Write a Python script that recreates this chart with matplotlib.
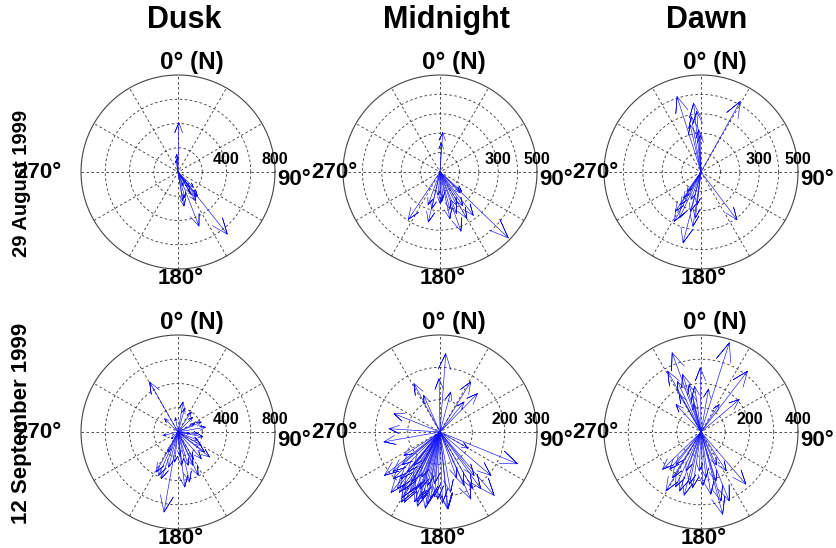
import numpy as np
import matplotlib
matplotlib.use("Agg")
import matplotlib.pyplot as plt

plt.rcParams['font.family'] = ['Liberation Sans', 'DejaVu Sans']

# ---- data: arrow direction (deg from N, clockwise) and magnitude ----
aug_dusk_dir = [1, 356, 350, 358, 141.6, 158.8, 144, 170, 171, 148.6, 144, 144, 141, 150, 160, 135, 165]
aug_dusk_mag = [406, 146, 95, 120, 655, 478, 255, 285, 242, 280, 154, 109, 255, 200, 120, 180, 220]

aug_mid_dir = [4, 3, 134, 213.8, 193.2, 160.5, 142.5, 132, 168, 177, 173, 192.7, 153.4, 150,
               165, 180, 136, 200, 185, 158, 146]
aug_mid_mag = [204, 150, 489, 294, 265, 324, 282, 150, 246, 155, 134, 194, 192, 277,
               198, 160, 150, 180, 120, 230, 210]

aug_dawn_dir = [342.4, 29.1, 353.9, 356, 347, 357, 359, 143, 194.2, 208.4, 188.4, 213, 213.8,
                195, 187, 212, 216, 187, 350, 205, 200]
aug_dawn_mag = [408, 416, 357, 313, 250, 218, 191, 308, 377, 289, 283, 242, 161,
                210, 239, 199, 123, 170, 290, 260, 150]

sep_dusk_dir = [330.4, 189.9, 199.7, 204, 173, 155, 128.4, 120, 101, 66.8, 33.6, 9.5, 15.8, 315,
                257, 206.6, 155.8, 174, 186.5, 127, 94.6, 63.4, 98, 225, 176, 163, 167, 208.5,
                112.8, 138.9, 80, 45, 150, 195, 350]
sep_dusk_mag = [474, 670, 409, 392, 457, 394, 332, 222, 210, 209, 198, 251, 200, 156,
                127, 185, 302, 277, 249, 275, 165, 153, 97, 78, 193, 287, 423, 375,
                179, 292, 230, 170, 250, 300, 120]

sep_mid_dir = [4.2, 359, 331.7, 31.5, 44.3, 291.7, 260, 273.7, 112.3, 139.5, 130.5, 155.3, 174.5,
               207, 217, 198, 188, 182, 170, 219, 218, 199, 193, 206, 220, 219, 141.9, 155.8,
               144.3, 336, 15, 38.7, 237, 200, 210, 195, 185, 190, 203, 212, 225, 178, 186,
               197, 209, 214, 191, 202, 230, 160, 150, 120, 232, 209, 229, 174]
sep_mid_mag = [243, 165, 170, 182, 166, 153, 176, 158, 259, 258, 207, 228, 239,
               244, 220, 228, 209, 208, 189, 160, 131, 186, 170, 207, 189, 241, 171, 181,
               216, 124, 128, 119, 133, 230, 235, 215, 200, 225, 195, 210, 205, 220, 160,
               240, 175, 225, 240, 150, 190, 150, 200, 100, 218, 248, 155, 239]

sep_dawn_dir = [17.6, 340, 37.4, 359.4, 331.3, 163.8, 165.3, 139.3, 157.7, 225.8, 210.7, 200,
                192.6, 171, 211.9, 173.8, 49.6, 330, 346, 317.8, 342.3, 347, 33.5, 217.7, 201,
                147, 182.5, 188.6, 163, 335, 352, 205, 220, 195, 178, 155, 345, 10]
sep_dawn_mag = [386, 348, 316, 265, 286, 296, 351, 284, 307, 221, 283, 259,
                221, 260, 222, 189, 207, 179, 202, 153, 249, 159, 136, 169, 172,
                191, 161, 232, 211, 230, 190, 250, 200, 270, 220, 150, 120, 180]

col_titles = ["Dusk", "Midnight", "Dawn"]
row_titles = ["29 August 1999", "12 September 1999"]

# per panel: data, outer ring, ring step, labelled rings
panels = [
    (aug_dusk_dir, aug_dusk_mag, 800, 200, [400, 800]),
    (aug_mid_dir, aug_mid_mag, 500, 100, [300, 500]),
    (aug_dawn_dir, aug_dawn_mag, 500, 100, [300, 500]),
    (sep_dusk_dir, sep_dusk_mag, 800, 200, [400, 800]),
    (sep_mid_dir, sep_mid_mag, 300, 100, [200, 300]),
    (sep_dawn_dir, sep_dawn_mag, 400, 100, [200, 400]),
]

# ---- layout (pixels) ----
W, H = 837, 548
R_PX = 97.0
cx_px = [178, 440, 701]
cy_px = [172, 432]
half = 131

fig = plt.figure(figsize=(W / 100, H / 100), dpi=100)

def fx(x): return x / W
def fy(y): return 1 - y / H

a_ = np.array([0, 1, .8, 1, .8])
b_ = np.array([0, 0, .08, 0, -.08])
grid_kw = dict(color="#333333", lw=0.6, ls=(0, (3, 3)))

for k, (dirs, mags, rmax, step, labs) in enumerate(panels):
    r, c = divmod(k, 3)
    cx, cy = cx_px[c], cy_px[r]
    ax = fig.add_axes([fx(cx - half), fy(cy + half), 2 * half / W, 2 * half / H])
    L = rmax * half / R_PX
    ax.set_xlim(-L, L); ax.set_ylim(-L, L)
    ax.axis("off")
    t = np.linspace(0, 2 * np.pi, 361)
    for rr in np.arange(step, rmax, step):
        ax.plot(rr * np.cos(t), rr * np.sin(t), **grid_kw)
    ax.plot(rmax * np.cos(t), rmax * np.sin(t), color="#444444", lw=0.8)
    for ang in range(0, 180, 30):
        th = np.deg2rad(ang)
        ax.plot([-rmax * np.cos(th), rmax * np.cos(th)],
                [-rmax * np.sin(th), rmax * np.sin(th)], **grid_kw)
    s = rmax / R_PX
    for v in labs:
        ax.text(v, 5 * s, str(v), ha="center", va="bottom", fontsize=11.5,
                fontweight="bold", clip_on=False)
    for d, m in zip(dirs, mags):
        z = m * np.exp(1j * np.deg2rad(90 - d))
        p = z * (a_ + 1j * b_)
        ax.plot(p.real, p.imag, color="#1010ff", lw=0.45)

    # angle labels
    tk = dict(fontsize=16, fontweight="bold")
    fig.text(fx(cx - 18), fy(cy - 110), "0° (N)", ha="left", va="center",
             fontsize=17.5, fontweight="bold")
    fig.text(fx(cx + 99), fy(cy + 8), "90°", ha="left", va="center", **tk)
    fig.text(fx(cx + 3), fy(cy + 107), "180°", ha="center", va="center", **tk)
    fig.text(fx(cx - (116 if c == 0 else 82)), fy(cy), "270°", ha="right", va="center", **tk)

for c, name in enumerate(col_titles):
    fig.text(fx(cx_px[c] + 6), fy(20), name, ha="center", va="center",
             fontsize=22, fontweight="bold")
for r, name in enumerate(row_titles):
    fig.text(fx(22), fy([183, 423][r]), name, ha="center", va="center", rotation=90,
             fontsize=[14.5, 16][r], fontweight="bold")

fig.savefig("out.png", dpi=100)
